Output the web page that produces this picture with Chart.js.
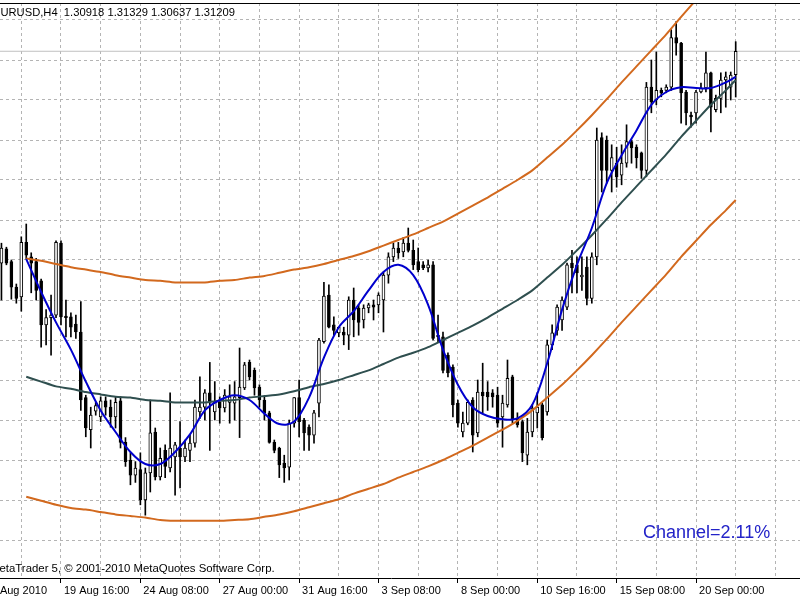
<!DOCTYPE html>
<html>
<head>
<meta charset="utf-8">
<title>EURUSD,H4</title>
<script src="https://cdn.jsdelivr.net/npm/chart.js@4/dist/chart.umd.min.js"></script>
<style>
  html, body { margin: 0; padding: 0; background: #fff; overflow: hidden; width: 800px; height: 600px; }
  #wrap { position: absolute; left: -24px; top: 0; width: 890px; height: 600px; }
  .txt { position: absolute; white-space: pre; font-family: "Liberation Sans", Arial, sans-serif; line-height: 1; color: #000; }
  #symbol { left: -7px; top: 7px; font-size: 11.2px; }
  #copyright { left: -10px; top: 563px; font-size: 11.4px; }
  #channel { left: 643px; top: 523px; font-size: 18px; color: #2323c8; }
</style>
</head>
<body>
<div id="wrap"><canvas id="chart"></canvas></div>
<div class="txt" id="symbol"></div>
<div class="txt" id="copyright">MetaTrader 5, © 2001-2010 MetaQuotes Software Corp.</div>
<div class="txt" id="channel">Channel=2.11%</div>
<script>
const symbolName = "EURUSD,H4";
const firstBar = 4;        // bar number of the first candle on screen (bar 0 = 17 Aug 00:00)
const barsPerLabel = 16;   // one time label every 16 H4 bars

const timeLabels = ["17 Aug 2010", "19 Aug 16:00", "24 Aug 08:00", "27 Aug 00:00", "31 Aug 16:00",
  "3 Sep 08:00", "8 Sep 00:00", "10 Sep 16:00", "15 Sep 08:00", "20 Sep 00:00"];

// H4 candles, bar 4 .. bar 152
const openP = [
  1.2856, 1.2874, 1.2858, 1.2826, 1.2814, 1.2882, 1.2864, 1.2858,
  1.2834, 1.2779, 1.2788, 1.2791, 1.2881, 1.2790, 1.2789, 1.2780,
  1.2770, 1.2688, 1.2648, 1.2671, 1.2664, 1.2684, 1.2676, 1.2664,
  1.2684, 1.2632, 1.2610, 1.2591, 1.2598, 1.2560, 1.2594, 1.2645,
  1.2589, 1.2622, 1.2600, 1.2614, 1.2625, 1.2614, 1.2622, 1.2631,
  1.2670, 1.2676, 1.2694, 1.2670, 1.2682, 1.2675, 1.2682, 1.2681,
  1.2688, 1.2700, 1.2732, 1.2722, 1.2701, 1.2685, 1.2669, 1.2632,
  1.2625, 1.2606, 1.2601, 1.2656, 1.2688, 1.2660, 1.2651, 1.2641,
  1.2681, 1.2758, 1.2816, 1.2779, 1.2769, 1.2770, 1.2766, 1.2810,
  1.2800, 1.2785, 1.2800, 1.2804, 1.2804, 1.2810, 1.2841, 1.2864,
  1.2875, 1.2870, 1.2881, 1.2872, 1.2858, 1.2854, 1.2850, 1.2854,
  1.2766, 1.2764, 1.2741, 1.2726, 1.2681, 1.2645, 1.2656, 1.2685,
  1.2644, 1.2695, 1.2695, 1.2694, 1.2691, 1.2664, 1.2679, 1.2714,
  1.2662, 1.2658, 1.2616, 1.2645, 1.2669, 1.2679, 1.2670, 1.2754,
  1.2772, 1.2785, 1.2801, 1.2856, 1.2854, 1.2839, 1.2851, 1.2812,
  1.2864, 1.3013, 1.3010, 1.2972, 1.2981, 1.2966, 1.2981, 1.3008,
  1.3001, 1.2994, 1.2972, 1.3076, 1.3060, 1.3072, 1.3072, 1.3076,
  1.3138, 1.3131, 1.3070, 1.3041, 1.3044, 1.3070, 1.3075, 1.3094,
  1.3048, 1.3062, 1.3085, 1.3076, 1.30918
];
const highP = [
  1.2881, 1.2876, 1.2860, 1.2830, 1.2889, 1.2905, 1.2869, 1.2862,
  1.2836, 1.2798, 1.2816, 1.2884, 1.2884, 1.2810, 1.2794, 1.2791,
  1.2808, 1.2691, 1.2676, 1.2682, 1.2689, 1.2689, 1.2685, 1.2689,
  1.2689, 1.2638, 1.2619, 1.2608, 1.2619, 1.2600, 1.2685, 1.2650,
  1.2625, 1.2629, 1.2694, 1.2632, 1.2658, 1.2635, 1.2641, 1.2685,
  1.2714, 1.2698, 1.2732, 1.2708, 1.2689, 1.2698, 1.2704, 1.2708,
  1.2750, 1.2732, 1.2735, 1.2725, 1.2704, 1.2689, 1.2671, 1.2635,
  1.2626, 1.2616, 1.2660, 1.2688, 1.2710, 1.2662, 1.2654, 1.2672,
  1.2762, 1.2832, 1.2829, 1.2789, 1.2776, 1.2776, 1.2814, 1.2825,
  1.2804, 1.2804, 1.2806, 1.2810, 1.2819, 1.2845, 1.2869, 1.2881,
  1.2882, 1.2888, 1.2900, 1.2885, 1.2875, 1.2858, 1.2860, 1.2858,
  1.2791, 1.2770, 1.2744, 1.2729, 1.2685, 1.2670, 1.2685, 1.2688,
  1.2710, 1.2731, 1.2708, 1.2698, 1.2701, 1.2691, 1.2735, 1.2716,
  1.2669, 1.2660, 1.2662, 1.2679, 1.2694, 1.2681, 1.2760, 1.2779,
  1.2804, 1.2814, 1.2856, 1.2872, 1.2864, 1.2864, 1.2864, 1.2869,
  1.3025, 1.3019, 1.3015, 1.3004, 1.3001, 1.3004, 1.3029, 1.3010,
  1.3004, 1.2995, 1.3082, 1.3110, 1.3120, 1.3075, 1.3079, 1.3148,
  1.3158, 1.3132, 1.3072, 1.3045, 1.3072, 1.3081, 1.3120, 1.3095,
  1.3066, 1.3094, 1.3095, 1.3095, 1.31329
];
const lowP = [
  1.2810, 1.2854, 1.2811, 1.2806, 1.2796, 1.2861, 1.2819, 1.2810,
  1.2751, 1.2754, 1.2741, 1.2788, 1.2779, 1.2764, 1.2764, 1.2762,
  1.2672, 1.2639, 1.2625, 1.2666, 1.2658, 1.2666, 1.2651, 1.2650,
  1.2625, 1.2602, 1.2579, 1.2582, 1.2554, 1.2541, 1.2570, 1.2585,
  1.2585, 1.2588, 1.2595, 1.2566, 1.2575, 1.2608, 1.2608, 1.2626,
  1.2662, 1.2660, 1.2622, 1.2660, 1.2656, 1.2670, 1.2656, 1.2660,
  1.2638, 1.2698, 1.2710, 1.2691, 1.2676, 1.2660, 1.2631, 1.2619,
  1.2588, 1.2582, 1.2585, 1.2651, 1.2639, 1.2622, 1.2622, 1.2631,
  1.2664, 1.2756, 1.2775, 1.2766, 1.2764, 1.2754, 1.2748, 1.2764,
  1.2766, 1.2775, 1.2794, 1.2785, 1.2794, 1.2770, 1.2831, 1.2858,
  1.2862, 1.2864, 1.2870, 1.2848, 1.2845, 1.2848, 1.2845, 1.2760,
  1.2758, 1.2719, 1.2714, 1.2664, 1.2651, 1.2639, 1.2654, 1.2620,
  1.2639, 1.2669, 1.2672, 1.2676, 1.2651, 1.2626, 1.2676, 1.2656,
  1.2651, 1.2608, 1.2604, 1.2639, 1.2650, 1.2635, 1.2666, 1.2748,
  1.2766, 1.2772, 1.2798, 1.2819, 1.2819, 1.2822, 1.2804, 1.2806,
  1.2854, 1.2945, 1.2956, 1.2945, 1.2951, 1.2954, 1.2976, 1.2981,
  1.2975, 1.2962, 1.2964, 1.3044, 1.3054, 1.3064, 1.3069, 1.3072,
  1.3116, 1.3031, 1.3029, 1.3026, 1.3031, 1.3069, 1.3070, 1.3020,
  1.3045, 1.3044, 1.3051, 1.3060, 1.30637
];
const closeP = [
  1.2875, 1.2856, 1.2826, 1.2812, 1.2882, 1.2866, 1.2856, 1.2822,
  1.2779, 1.2788, 1.2791, 1.2882, 1.2789, 1.2788, 1.2776, 1.2770,
  1.2685, 1.2650, 1.2666, 1.2678, 1.2684, 1.2676, 1.2664, 1.2682,
  1.2632, 1.2608, 1.2591, 1.2600, 1.2560, 1.2594, 1.2644, 1.2589,
  1.2612, 1.2602, 1.2625, 1.2629, 1.2614, 1.2625, 1.2631, 1.2676,
  1.2676, 1.2694, 1.2682, 1.2682, 1.2675, 1.2691, 1.2689, 1.2689,
  1.2701, 1.2729, 1.2714, 1.2700, 1.2685, 1.2669, 1.2632, 1.2622,
  1.2604, 1.2600, 1.2656, 1.2688, 1.2658, 1.2644, 1.2641, 1.2669,
  1.2760, 1.2815, 1.2776, 1.2772, 1.2776, 1.2766, 1.2810, 1.2785,
  1.2782, 1.2800, 1.2804, 1.2801, 1.2816, 1.2841, 1.2864, 1.2875,
  1.2869, 1.2881, 1.2872, 1.2854, 1.2848, 1.2850, 1.2854, 1.2762,
  1.2764, 1.2722, 1.2719, 1.2679, 1.2656, 1.2656, 1.2682, 1.2641,
  1.2695, 1.2690, 1.2689, 1.2689, 1.2656, 1.2681, 1.2712, 1.2660,
  1.2654, 1.2619, 1.2645, 1.2675, 1.2676, 1.2638, 1.2754, 1.2769,
  1.2801, 1.2810, 1.2854, 1.2850, 1.2844, 1.2841, 1.2812, 1.2864,
  1.3010, 1.2972, 1.2972, 1.2988, 1.2964, 1.2981, 1.3008, 1.3000,
  1.2988, 1.2972, 1.3076, 1.3058, 1.3072, 1.3069, 1.3076, 1.3138,
  1.3131, 1.3069, 1.3044, 1.3039, 1.3070, 1.3075, 1.3094, 1.3051,
  1.3062, 1.3085, 1.3089, 1.3091, 1.31209
];

// indicator lines, read every third bar
const lineBars = [9, 12, 15, 18, 21, 24, 27, 30, 33, 36, 39, 42, 45, 48, 51, 54, 57,
  60, 63, 66, 69, 72, 75, 78, 81, 84, 87, 90, 93, 96, 99, 102, 105, 108, 111, 114,
  117, 120, 123, 126, 129, 132, 135, 138, 141, 144, 147, 150, 152];
const smoothLine = [
  1.2861, 1.2820, 1.2782, 1.2748, 1.2708, 1.2672, 1.2645, 1.2620,
  1.2605, 1.2605, 1.2620, 1.2642, 1.2672, 1.2685, 1.2691, 1.2685,
  1.2668, 1.2655, 1.2658, 1.2688, 1.2738, 1.2776, 1.2796, 1.2822,
  1.2845, 1.2854, 1.2841, 1.2804, 1.2748, 1.2704, 1.2676, 1.2665,
  1.2661, 1.2662, 1.2679, 1.2731, 1.2798, 1.2854, 1.2900, 1.2956,
  1.2991, 1.3022, 1.3054, 1.3070, 1.3076, 1.3075, 1.3075, 1.3082,
  1.3089
];
const centerLine = [
  1.2714, 1.2708, 1.2702, 1.2699, 1.2695, 1.2692, 1.2689, 1.2688,
  1.2685, 1.2684, 1.2682, 1.2682, 1.2682, 1.2684, 1.2685, 1.2688,
  1.2690, 1.2692, 1.2696, 1.2701, 1.2705, 1.2710, 1.2716, 1.2722,
  1.2730, 1.2738, 1.2744, 1.2751, 1.2760, 1.2769, 1.2778, 1.2788,
  1.2799, 1.2810, 1.2822, 1.2838, 1.2854, 1.2872, 1.2891, 1.2911,
  1.2932, 1.2952, 1.2972, 1.2992, 1.3014, 1.3034, 1.3054, 1.3072,
  1.3085
];
const upperLine = [
  1.2862, 1.2859, 1.2855, 1.2851, 1.2848, 1.2845, 1.2841, 1.2838,
  1.2835, 1.2834, 1.2832, 1.2832, 1.2832, 1.2834, 1.2835, 1.2838,
  1.2840, 1.2844, 1.2848, 1.2851, 1.2855, 1.2860, 1.2865, 1.2871,
  1.2878, 1.2885, 1.2892, 1.2900, 1.2908, 1.2918, 1.2928, 1.2938,
  1.2949, 1.2960, 1.2972, 1.2988, 1.3004, 1.3022, 1.3041, 1.3061,
  1.3082, 1.3102, 1.3122, 1.3142, 1.3164, 1.3185
];
const lowerLine = [
  1.2564, 1.2559, 1.2554, 1.2550, 1.2548, 1.2545, 1.2542, 1.2540,
  1.2538, 1.2535, 1.2534, 1.2534, 1.2534, 1.2534, 1.2535, 1.2536,
  1.2539, 1.2542, 1.2546, 1.2551, 1.2556, 1.2561, 1.2568, 1.2574,
  1.2580, 1.2588, 1.2595, 1.2602, 1.2610, 1.2619, 1.2628, 1.2638,
  1.2648, 1.2659, 1.2672, 1.2688, 1.2704, 1.2722, 1.2741, 1.2761,
  1.2782, 1.2802, 1.2822, 1.2842, 1.2864, 1.2884, 1.2904, 1.2922,
  1.2935
];

const gridPrices = [1.2510, 1.2560, 1.2610, 1.2660, 1.2710, 1.2760, 1.2810,
  1.2860, 1.2910, 1.2960, 1.3010, 1.3060, 1.3110, 1.3160];

// visible window of the chart (bar numbers / prices)
const xMin = -1.13;
const xMax = 166.17;
const yMin = 1.24625;
const yMax = 1.318125;

const last = closeP.length - 1;
document.getElementById("symbol").textContent =
  symbolName + "  " + [openP[last], highP[last], lowP[last], closeP[last]].map((v) => v.toFixed(5)).join(" ");

const candleX = openP.map((_, k) => firstBar + k);
const wickData = candleX.map((x, k) => ({ x, y: [lowP[k], highP[k]] }));
const bodyData = candleX.map((x, k) => ({ x, y: [openP[k], closeP[k]] }));
const bodyFill = openP.map((o, k) => (closeP[k] >= o ? "#ffffff" : "#000000"));
const toPoints = (vals) => vals.map((y, k) => ({ x: lineBars[k], y }));
const bidLine = [{ x: xMin, y: closeP[last] }, { x: xMax, y: closeP[last] }];

const gridBars = [];
for (let b = 0; b <= 160; b += 8) gridBars.push(b);

function labelFor(v) {
  return v % barsPerLabel === 0 ? timeLabels[v / barsPerLabel] || "" : "";
}

function lineSet(data, color, order, tension) {
  return {
    type: "line",
    data,
    borderColor: color,
    borderWidth: 2,
    pointRadius: 0,
    tension,
    order,
  };
}

const frameTop = {
  id: "frameTop",
  afterDraw(chart) {
    const { ctx, chartArea } = chart;
    ctx.save();
    ctx.strokeStyle = "#000";
    ctx.lineWidth = 1;
    ctx.beginPath();
    ctx.moveTo(chartArea.left, chartArea.top + 0.5);
    ctx.lineTo(chartArea.right, chartArea.top + 0.5);
    ctx.stroke();
    ctx.restore();
  },
};

const labelFont = { family: "'Liberation Sans', Arial, sans-serif", size: 11 };

new Chart(document.getElementById("chart"), {
  type: "bar",
  data: {
    datasets: [
      { type: "line", data: bidLine, borderColor: "#c0c0c0", borderWidth: 1, pointRadius: 0, order: 9 },
      { data: wickData, backgroundColor: "#000000", barThickness: 1, grouped: false, order: 8 },
      {
        data: bodyData,
        backgroundColor: bodyFill,
        borderColor: "#000000",
        borderWidth: 1,
        borderSkipped: false,
        barThickness: 3,
        minBarLength: 1,
        grouped: false,
        order: 7,
      },
      lineSet(toPoints(upperLine), "#d2691e", 3, 0.2),
      lineSet(toPoints(lowerLine), "#d2691e", 3, 0.2),
      lineSet(toPoints(centerLine), "#2f4f4f", 2, 0.2),
      lineSet(toPoints(smoothLine), "#0000cd", 1, 0.35),
    ],
  },
  options: {
    responsive: true,
    maintainAspectRatio: false,
    devicePixelRatio: 1,
    animation: false,
    events: [],
    layout: { padding: { top: 3, left: 0, right: 0, bottom: 0 } },
    plugins: { legend: { display: false }, tooltip: { enabled: false } },
    scales: {
      x: {
        type: "linear",
        min: xMin,
        max: xMax,
        offset: false,
        afterBuildTicks: (scale) => { scale.ticks = gridBars.map((v) => ({ value: v })); },
        afterFit: (scale) => { scale.height = 22; },
        grid: {
          offset: false,
          color: "#b4b4b4",
          tickLength: 5,
          tickColor: (c) => (c.tick && labelFor(c.tick.value) ? "#000000" : "rgba(0,0,0,0)"),
        },
        border: { display: true, color: "#000000", width: 1, dash: [3, 3] },
        ticks: {
          autoSkip: false,
          maxRotation: 0,
          minRotation: 0,
          align: "start",
          labelOffset: 3,
          padding: 1,
          color: "#000000",
          font: labelFont,
          callback: (v) => labelFor(v),
        },
      },
      y: {
        type: "linear",
        position: "right",
        min: yMin,
        max: yMax,
        afterBuildTicks: (scale) => { scale.ticks = gridPrices.map((v) => ({ value: v })); },
        afterFit: (scale) => { scale.width = 60; },
        grid: { color: "#b4b4b4", drawTicks: false },
        border: { display: false, dash: [3, 3] },
        ticks: { display: false },
      },
    },
  },
  plugins: [frameTop],
});
</script>
</body>
</html>
